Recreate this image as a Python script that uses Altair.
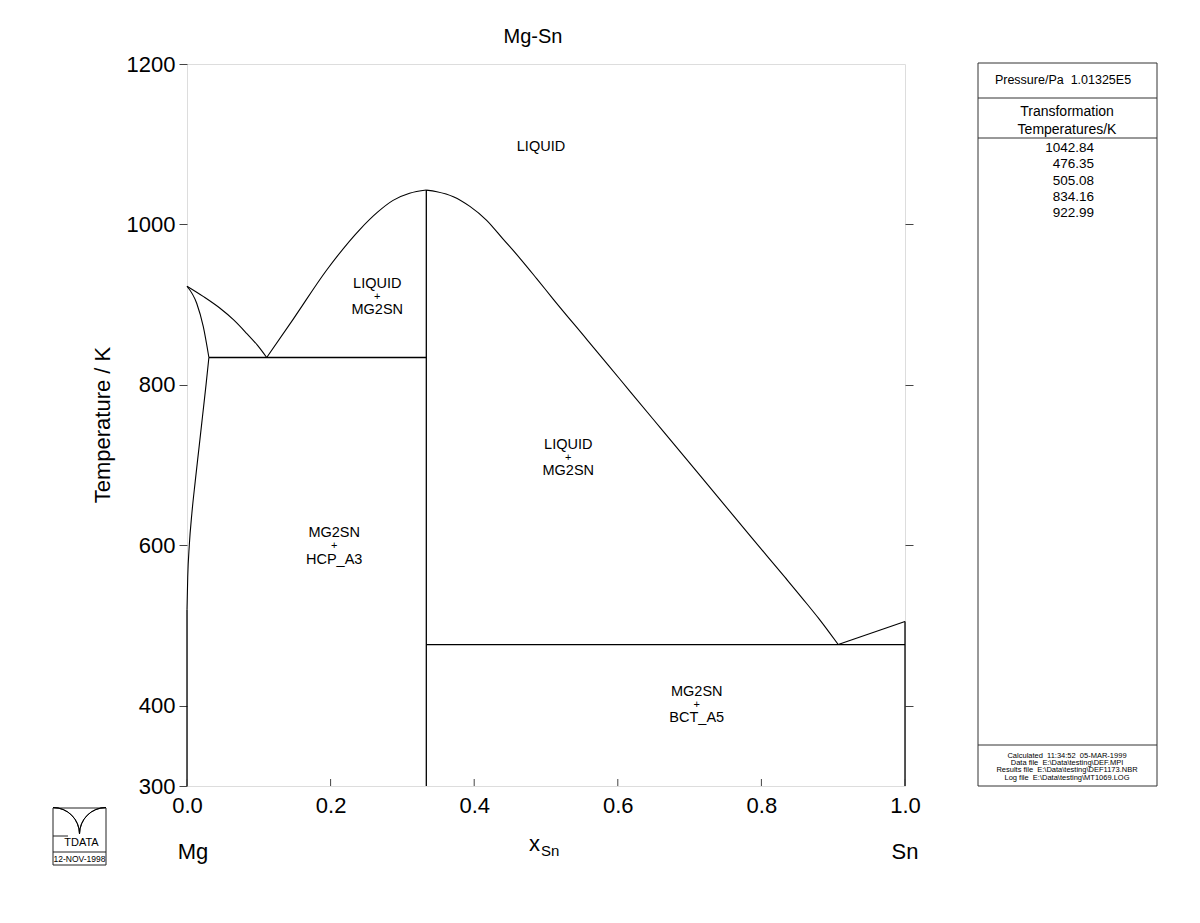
import math
import altair as alt
import pandas as pd

FONT = "Liberation Sans"

# ---------------- phase boundary data (x_Sn, T/K) ----------------
mg_liq_x = [0.0, 0.023, 0.046, 0.065, 0.083, 0.098, 0.111]
mg_liq_t = [922.99, 910.0, 895.5, 881.0, 864.3, 849.5, 834.16]

mg_sol_x = [0.0, 0.0135, 0.0227, 0.0305]
mg_sol_t = [922.99, 901.7, 872.5, 834.16]

mg_solvus_x = [0.0, 0.0010, 0.0032, 0.0068, 0.0115, 0.0165, 0.0215, 0.0265, 0.0305]
mg_solvus_t = [520.0, 560.0, 600.0, 640.0, 680.0, 720.0, 760.0, 800.0, 834.16]

mg_edge_x = [0.0, 0.0]
mg_edge_t = [300.0, 520.0]

mg2sn_liq_l_x = [0.111, 0.148, 0.1946, 0.241, 0.265, 0.287, 0.310, 0.3333]
mg2sn_liq_l_t = [834.16, 882.0, 943.2, 994.0, 1015.0, 1030.0, 1038.8, 1042.84]

mg2sn_liq_r_x = [0.3333, 0.348, 0.371, 0.394, 0.417, 0.440, 0.464, 0.487, 0.510,
                 0.557, 0.603, 0.649, 0.695, 0.741, 0.787, 0.833, 0.863, 0.880, 0.895, 0.907]
mg2sn_liq_r_t = [1042.84, 1040.8, 1034.6, 1022.5, 1005.5, 982.0, 957.5, 932.5, 907.0,
                 856.5, 807.0, 757.5, 708.0, 658.5, 609.0, 560.0, 527.5, 508.6, 490.9, 476.35]

sn_liq_x = [0.907, 1.0]
sn_liq_t = [476.35, 505.08]

mg2sn_line_x = [0.3333, 0.3333]
mg2sn_line_t = [300.0, 1042.84]

eut1_x = [0.0305, 0.3333]
eut1_t = [834.16, 834.16]

eut2_x = [0.3333, 1.0]
eut2_t = [476.35, 476.35]

sn_edge_x = [1.0, 1.0]
sn_edge_t = [300.0, 505.08]

curved = [
    ("mg_liq", mg_liq_x, mg_liq_t),
    ("mg_sol", mg_sol_x, mg_sol_t),
    ("mg_solvus", mg_solvus_x, mg_solvus_t),
    ("mg2sn_l", mg2sn_liq_l_x, mg2sn_liq_l_t),
    ("mg2sn_r", mg2sn_liq_r_x, mg2sn_liq_r_t),
    ("sn_liq", sn_liq_x, sn_liq_t),
]
straight = [
    ("mg_edge", mg_edge_x, mg_edge_t),
    ("mg2sn_line", mg2sn_line_x, mg2sn_line_t),
    ("eut1", eut1_x, eut1_t),
    ("eut2", eut2_x, eut2_t),
    ("sn_edge", sn_edge_x, sn_edge_t),
]


def to_df(segs):
    rows = []
    for name, xs_, ts_ in segs:
        for i, (xv, tv) in enumerate(zip(xs_, ts_)):
            rows.append({"seg": name, "i": i, "x": xv, "T": tv})
    return pd.DataFrame(rows)


df_curved = to_df(curved)
df_straight = to_df(straight)

# ---------------- phase labels ----------------
label_x = [0.265, 0.531, 0.205, 0.710]
label_t = [910.0, 709.0, 599.0, 401.0]
label_top = ["LIQUID", "LIQUID", "MG2SN", "MG2SN"]
label_bottom = ["MG2SN", "MG2SN", "HCP_A3", "BCT_A5"]
df_lab = pd.DataFrame({"x": label_x, "T": label_t, "top": label_top, "bottom": label_bottom,
                       "plus": ["+"] * 4})
single_x = [0.493]
single_t = [1096.0]
single_text = ["LIQUID"]
df_single = pd.DataFrame({"x": single_x, "T": single_t, "label": single_text})

# ---------------- axis ticks ----------------
x_ticks = [0.0, 0.2, 0.4, 0.6, 0.8, 1.0]
y_ticks = [300, 400, 600, 800, 1000, 1200]
y_ticks_right = [400, 600, 800, 1000]

# ---------------- side panel texts ----------------
pressure_text = "Pressure/Pa\u00a0\u00a01.01325E5"
trans_text = "Transformation\nTemperatures/K"
trans_temps = ["1042.84", "476.35", "505.08", "834.16", "922.99"]
footer_lines = [
    "Calculated\u00a0\u00a011:34:52\u00a0\u00a005-MAR-1999",
    "Data file\u00a0\u00a0E:\\Data\\testing\\DEF.MPI",
    "Results file\u00a0\u00a0E:\\Data\\testing\\DEF1173.NBR",
    "Log file\u00a0\u00a0E:\\Data\\testing\\MT1069.LOG",
]

W, H = 718, 722
xs = alt.Scale(domain=[0, 1], nice=False, zero=False)
ys = alt.Scale(domain=[300, 1200], nice=False, zero=False)

base_dummy = pd.DataFrame({"a": [0]})

curves = alt.Chart(df_curved).mark_line(color="black", strokeWidth=1.1, interpolate="monotone").encode(
    x=alt.X("x:Q", scale=xs, axis=alt.Axis(values=x_ticks, format=".1f", ticks=False, domain=False,
                                           grid=False, labelFontSize=22, labelPadding=9, title=None,
                                           labelColor="black", labelFont=FONT, labelFlush=False)),
    y=alt.Y("T:Q", scale=ys, axis=alt.Axis(values=y_ticks, format="d", tickSize=8, tickColor="#444",
                                           tickWidth=1, domain=False, grid=False, labelFontSize=22,
                                           labelPadding=4, labelColor="black", labelFont=FONT,
                                           title=None, labelFlush=False)),
    detail="seg:N",
    order="i:Q",
)

lines = alt.Chart(df_straight).mark_line(color="black", strokeWidth=1.3).encode(
    x=alt.X("x:Q", scale=xs, axis=None),
    y=alt.Y("T:Q", scale=ys, axis=None),
    detail="seg:N",
    order="i:Q",
)

right_axis = alt.Chart(pd.DataFrame({"T": y_ticks_right})).mark_point(opacity=0).encode(
    y=alt.Y("T:Q", scale=ys, axis=alt.Axis(orient="right", values=y_ticks_right, labels=False,
                                           tickSize=8, tickColor="#444", domain=False, grid=False,
                                           title=None)),
)

bottom_ticks = alt.Chart(pd.DataFrame({"x": x_ticks})).mark_rule(color="#444", strokeWidth=1).encode(
    x=alt.X("x:Q", scale=xs, axis=None),
    y=alt.value(H),
    y2=alt.value(H - 7),
)


def phase_text(field, dy, size):
    return alt.Chart(df_lab).mark_text(font=FONT, fontSize=size, dy=dy, align="center",
                                       baseline="middle", color="black").encode(
        x=alt.X("x:Q", scale=xs, axis=None),
        y=alt.Y("T:Q", scale=ys, axis=None),
        text=f"{field}:N",
    )


labels_top = phase_text("top", -13, 14.5)
labels_plus = phase_text("plus", 0, 11)
labels_bottom = phase_text("bottom", 13.5, 14.5)
label_single = alt.Chart(df_single).mark_text(font=FONT, fontSize=14.5, align="center",
                                              baseline="middle", color="black").encode(
    x=alt.X("x:Q", scale=xs, axis=None),
    y=alt.Y("T:Q", scale=ys, axis=None),
    text="label:N",
)


def txt(text, x, y, size, align="center", baseline="middle", angle=0, line_height=None):
    kw = dict(font=FONT, fontSize=size, align=align, baseline=baseline, color="black", text=text)
    if angle:
        kw["angle"] = angle
    if line_height:
        kw["lineBreak"] = "\n"
        kw["lineHeight"] = line_height
    return alt.Chart(base_dummy).mark_text(**kw).encode(x=alt.value(x), y=alt.value(y))


def hrule(x1, x2, y, color="#333", w=1):
    return alt.Chart(base_dummy).mark_rule(color=color, strokeWidth=w).encode(
        x=alt.value(x1), x2=alt.value(x2), y=alt.value(y))


def box(x1, x2, y1, y2, color="#333", w=1):
    return alt.Chart(base_dummy).mark_rect(fill="transparent", stroke=color, strokeWidth=w).encode(
        x=alt.value(x1), x2=alt.value(x2), y=alt.value(y1), y2=alt.value(y2))


def arc(cx, cy, r, t1, t2):
    return alt.Chart(base_dummy).mark_arc(filled=False, stroke="black", strokeWidth=1, radius=r,
                                          radius2=r, theta=t1, theta2=t2).encode(
        x=alt.value(cx), y=alt.value(cy))


# titles / annotations
title = txt("Mg-Sn", 346, -27, 20)
ytitle = txt("Temperature / K", -84, H / 2, 22, angle=270)
xtitle_x = txt("x", 353, 780, 22, align="right")
xtitle_sub = txt("Sn", 354, 787, 15, align="left")
mg_lab = txt("Mg", 6, 788, 22)
sn_lab = txt("Sn", 718, 788, 22)

# side panel (pixel offsets from plot origin)
px1, px2 = 791, 970
panel = [
    box(px1, px2, -1, H),
    hrule(px1, px2, 34),
    hrule(px1, px2, 74),
    hrule(px1, px2, 681),
    txt(pressure_text, 876, 16, 12.5),
    txt(trans_text, 880, 48, 14, line_height=18),
    txt("\n".join(trans_temps), 907, 77, 13.5, align="right", baseline="top", line_height=16.3),
    txt("\n".join(footer_lines), 880, 688, 7.5, baseline="top", line_height=7.2),
]

# logo
lx1, lx2, ly1, ly2 = -134, -81, 744, 801
logo = [
    box(lx1, lx2, ly1, ly2, color="#222"),
    hrule(lx1, lx2, 788, color="#222"),
    arc(lx1, 770, 26.5, 0, math.pi / 2),
    arc(lx2, 770, 26.5, 3 * math.pi / 2, 2 * math.pi),
    txt("TDATA", (lx1 + lx2) / 2 + 2, 779, 11),
    hrule(lx1, lx1 + 15, 772, color="#222"),
    txt("12-NOV-1998", (lx1 + lx2) / 2, 795, 8.5),
]

chart = alt.layer(
    curves, lines, right_axis, bottom_ticks,
    labels_top, labels_plus, labels_bottom, label_single,
    title, ytitle, xtitle_x, xtitle_sub, mg_lab, sn_lab,
    *panel, *logo,
).resolve_axis(x="independent", y="independent").properties(
    width=W, height=H,
    autosize=alt.AutoSizeParams(type="none"),
    padding={"left": 179, "top": 56, "right": 275, "bottom": 100},
).configure_view(stroke="#808080", strokeWidth=1.5).configure(background="white")

chart.save("out.html", embed_options={"renderer": "svg", "actions": False})
